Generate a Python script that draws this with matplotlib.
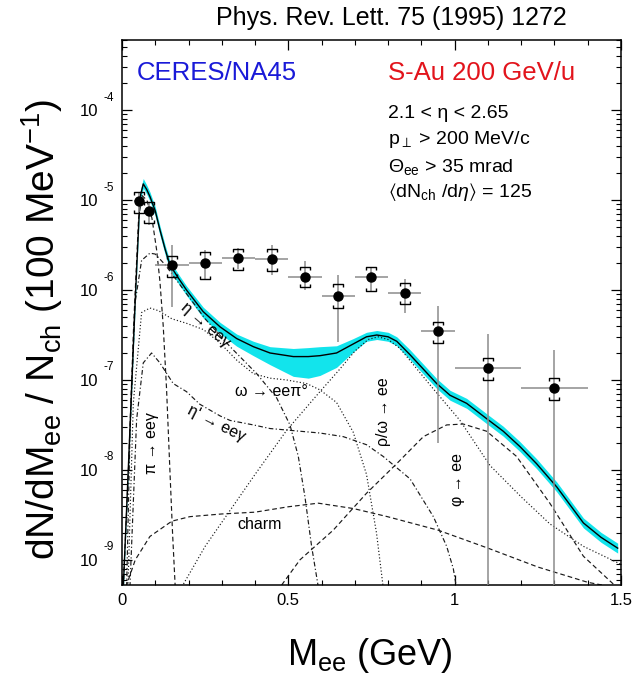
import numpy as np
import matplotlib
matplotlib.use('Agg')
import matplotlib.pyplot as plt
from matplotlib.path import Path
from matplotlib.ticker import LogLocator, MultipleLocator, NullFormatter

plt.rcParams['font.family'] = ['Liberation Sans', 'DejaVu Sans']
plt.rcParams['mathtext.fontset'] = 'custom'
plt.rcParams['mathtext.rm'] = 'Liberation Sans'
plt.rcParams['mathtext.it'] = 'Liberation Sans:italic'
plt.rcParams['mathtext.bf'] = 'Liberation Sans:bold'
plt.rcParams['mathtext.fallback'] = 'stixsans'

# CERES/NA45 S-Au data points
mass = [0.05, 0.08, 0.15, 0.25, 0.35, 0.45, 0.55, 0.65, 0.75, 0.85, 0.95, 1.10, 1.30]
dndm = [9.8e-6, 7.5e-6, 1.9e-6, 2.0e-6, 2.25e-6, 2.2e-6, 1.4e-6, 8.6e-7, 1.38e-6, 9.3e-7, 3.5e-7, 1.35e-7, 8.1e-8]
mass_err = [0.015, 0.015, 0.05, 0.05, 0.05, 0.05, 0.05, 0.05, 0.05, 0.05, 0.05, 0.1, 0.1]
stat_lo = [7.4e-6, 5.3e-6, 6.5e-7, 1.3e-6, 1.7e-6, 1.47e-6, 1.0e-6, 2.67e-7, 9.6e-7, 5.5e-7, 1.98e-8, 1e-10, 1e-10]
stat_hi = [1.2e-5, 9.6e-6, 3.16e-6, 2.8e-6, 2.9e-6, 3.16e-6, 2.12e-6, 1.47e-6, 1.81e-6, 1.33e-6, 6.7e-7, 3.24e-7, 2.15e-7]
sys_lo = [7.1e-6, 5.5e-6, 1.41e-6, 1.33e-6, 1.67e-6, 1.64e-6, 1.09e-6, 6.3e-7, 9.8e-7, 7.0e-7, 2.56e-7, 1.0e-7, 6.0e-8]
sys_hi = [1.24e-5, 9.6e-6, 2.39e-6, 2.67e-6, 2.86e-6, 2.86e-6, 1.82e-6, 1.17e-6, 1.79e-6, 1.2e-6, 4.45e-7, 1.74e-7, 1.06e-7]

# hadronic cocktail, log10(dN/dMee/Nch)
total_m = [0.004, 0.02, 0.04, 0.054, 0.064, 0.074, 0.084, 0.1, 0.114, 0.13, 0.144, 0.17, 0.194,
           0.244, 0.295, 0.345, 0.395, 0.445, 0.515, 0.56, 0.595, 0.645, 0.695, 0.735, 0.766,
           0.8, 0.826, 0.866, 0.906, 0.946, 0.986, 1.036, 1.096, 1.146, 1.196, 1.246, 1.307,
           1.387, 1.44, 1.49]
total_log = [-9.3, -7.9, -6.1, -4.97, -4.82, -4.88, -4.96, -5.12, -5.33, -5.55, -5.72, -5.87, -6.0,
             -6.24, -6.41, -6.54, -6.63, -6.70, -6.74, -6.74, -6.73, -6.70, -6.6, -6.52, -6.5,
             -6.52, -6.57, -6.72, -6.88, -7.04, -7.17, -7.26, -7.43, -7.57, -7.74, -7.93, -8.19,
             -8.59, -8.75, -8.87]
band_up = [0.05, 0.05, 0.05, 0.06, 0.06, 0.05, 0.05, 0.045, 0.045, 0.045, 0.045, 0.045, 0.045,
           0.05, 0.05, 0.05, 0.06, 0.07, 0.09, 0.1, 0.1, 0.08, 0.06, 0.05, 0.05,
           0.05, 0.05, 0.055, 0.055, 0.055, 0.055, 0.055, 0.055, 0.055, 0.055, 0.055, 0.055,
           0.055, 0.055, 0.055]
band_lo = [0.05, 0.05, 0.05, 0.05, 0.05, 0.05, 0.05, 0.06, 0.06, 0.06, 0.06, 0.06, 0.06,
           0.07, 0.075, 0.085, 0.1, 0.13, 0.22, 0.24, 0.22, 0.16, 0.09, 0.05, 0.05,
           0.05, 0.05, 0.055, 0.055, 0.055, 0.055, 0.055, 0.055, 0.055, 0.055, 0.055, 0.055,
           0.055, 0.055, 0.055]

pi_m = [0.004, 0.02, 0.035, 0.05, 0.06, 0.075, 0.09, 0.104, 0.114, 0.124, 0.134, 0.144, 0.152, 0.16]
pi_log = [-9.3, -7.95, -6.4, -5.2, -4.95, -5.0, -5.2, -5.55, -5.9, -6.4, -7.1, -8.0, -8.7, -9.3]

eta_m = [0.014, 0.024, 0.039, 0.059, 0.084, 0.1, 0.13, 0.164, 0.2, 0.25, 0.325, 0.405, 0.465,
         0.505, 0.53, 0.55, 0.57, 0.59]
eta_log = [-9.3, -7.63, -6.15, -5.67, -5.59, -5.6, -5.72, -5.89, -6.07, -6.32, -6.63, -6.93, -7.2,
           -7.5, -7.85, -8.3, -8.85, -9.3]

omega_m = [0.018, 0.034, 0.059, 0.084, 0.11, 0.15, 0.194, 0.245, 0.295, 0.345, 0.395, 0.445,
           0.495, 0.555, 0.595, 0.645, 0.695, 0.735, 0.765, 0.785]
omega_log = [-9.3, -7.26, -6.25, -6.2, -6.23, -6.32, -6.37, -6.44, -6.59, -6.78, -6.93, -6.98,
             -7.0, -7.04, -7.11, -7.25, -7.58, -8.05, -8.7, -9.3]

etap_m = [0.024, 0.044, 0.064, 0.089, 0.114, 0.154, 0.194, 0.234, 0.295, 0.325, 0.395, 0.445,
          0.505, 0.595, 0.665, 0.735, 0.785, 0.866, 0.936, 0.976, 0.996, 1.005]
etap_log = [-9.3, -7.44, -6.81, -6.7, -6.81, -7.04, -7.13, -7.27, -7.4, -7.45, -7.5, -7.54,
            -7.56, -7.59, -7.63, -7.72, -7.85, -8.1, -8.52, -8.85, -9.1, -9.3]

rho_m = [0.18, 0.25, 0.325, 0.4, 0.495, 0.595, 0.65, 0.7, 0.74, 0.77, 0.8, 0.836, 0.936, 1.016,
         1.106, 1.2, 1.286, 1.387, 1.5]
rho_log = [-9.3, -8.85, -8.45, -8.05, -7.56, -7.13, -6.9, -6.68, -6.55, -6.52, -6.55, -6.65, -7.1,
           -7.45, -7.95, -8.3, -8.6, -8.85, -9.05]

phi_m = [0.48, 0.535, 0.635, 0.735, 0.826, 0.906, 0.976, 1.026, 1.096, 1.186, 1.286, 1.387, 1.48]
phi_log = [-9.28, -9.0, -8.67, -8.26, -7.93, -7.63, -7.5, -7.49, -7.57, -7.85, -8.37, -8.96, -9.28]

charm_m = [0.012, 0.04, 0.084, 0.15, 0.204, 0.3, 0.4, 0.5, 0.59, 0.696, 0.798, 0.95, 1.1, 1.25,
           1.4, 1.5]
charm_log = [-9.3, -9.0, -8.74, -8.57, -8.52, -8.49, -8.47, -8.41, -8.37, -8.43, -8.52, -8.67,
             -8.87, -9.08, -9.25, -9.32]

dashed = (0, (4, 2.5))
dotted = (0, (1, 1.8))
dashdot = (0, (4, 2, 1, 2))

fig = plt.figure(figsize=(6.32, 6.76), dpi=100)
ax = fig.add_axes([0.193, 0.1346, 0.7896, 0.8062])
ax.set_yscale('log')
ax.set_xlim(0, 1.5)
ax.set_ylim(10 ** -9.28, 10 ** -3.22)

# cocktail sum with its uncertainty band
tl = np.array(total_log)
ax.fill_between(total_m, 10 ** (tl - np.array(band_lo)), 10 ** (tl + np.array(band_up)),
                color='#12e4ec', lw=0, zorder=1)
ax.plot(total_m, 10 ** tl, color='black', lw=1.0, zorder=3)

curves = [(pi_m, pi_log, dashed), (eta_m, eta_log, dashdot), (omega_m, omega_log, dotted),
          (etap_m, etap_log, dashdot), (rho_m, rho_log, dotted), (phi_m, phi_log, dashed),
          (charm_m, charm_log, dashed)]
for cm, cl, ls in curves:
    ax.plot(cm, 10 ** np.array(cl), color='#1a1a1a', lw=0.85, ls=ls, zorder=2)

# data with statistical errors
d = np.array(dndm)
ax.errorbar(mass, dndm, xerr=mass_err,
            yerr=[d - np.array(stat_lo), np.array(stat_hi) - d],
            fmt='o', color='black', ms=6.5, ecolor='#8c8c8c', elinewidth=1.1,
            capsize=0, zorder=5)

# systematic brackets
top_br = Path([(-1, -0.7), (-1, 0), (1, 0), (1, -0.7)],
              [Path.MOVETO, Path.LINETO, Path.LINETO, Path.LINETO])
bot_br = Path([(-1, 0.7), (-1, 0), (1, 0), (1, 0.7)],
              [Path.MOVETO, Path.LINETO, Path.LINETO, Path.LINETO])
ax.plot(mass, sys_hi, ls='none', marker=top_br, ms=6.5, mew=1.0, mec='black', mfc='none', zorder=6)
ax.plot(mass, sys_lo, ls='none', marker=bot_br, ms=6.5, mew=1.0, mec='black', mfc='none', zorder=6)

# axes style
ax.xaxis.set_minor_locator(MultipleLocator(0.1))
ax.set_xticks([0, 0.5, 1, 1.5])
ax.set_xticklabels(['0', '0.5', '1', '1.5'])
ax.yaxis.set_minor_locator(LogLocator(base=10, subs=np.arange(2, 10)))
ax.yaxis.set_minor_formatter(NullFormatter())
exps = [-9, -8, -7, -6, -5, -4]
ax.set_yticks([10.0 ** k for k in exps])
ax.set_yticklabels(['10'] * len(exps))
ax.tick_params(which='both', direction='in', top=True, right=True, labelsize=12)
ax.tick_params(which='major', length=7, width=0.9)
ax.tick_params(which='minor', length=3.5, width=0.8)
ax.tick_params(axis='y', which='major', pad=17)
ax.tick_params(axis='x', which='major', pad=6)
for s in ax.spines.values():
    s.set_linewidth(1.1)
for k in exps:
    ax.annotate(str(k), xy=(0, 10.0 ** k), xycoords=('axes fraction', 'data'),
                xytext=(-13.5, 9), textcoords='offset points', ha='left', va='center',
                fontsize=8.5)

# labels
fig.text(0.619, 0.973, 'Phys. Rev. Lett. 75 (1995) 1272', ha='center', va='center', fontsize=18)
fig.text(0.066, 0.512, r'dN/dM$_{\rm ee}$ / N$_{\rm ch}$ (100 MeV$^{-1}$)', rotation=90,
         ha='center', va='center', fontsize=28)
fig.text(0.585, 0.031, r'M$_{\rm ee}$ (GeV)', ha='center', va='center', fontsize=26)

ax.text(0.030, 0.939, 'CERES/NA45', transform=ax.transAxes, color='#1a1ad8', fontsize=18.5,
        ha='left', va='center')
ax.text(0.533, 0.939, 'S-Au 200 GeV/u', transform=ax.transAxes, color='#e2141c', fontsize=18.5,
        ha='left', va='center')
ax.text(0.533, 0.866, '2.1 < η < 2.65', transform=ax.transAxes, fontsize=14, va='center')
ax.text(0.533, 0.817, r'p$_{\perp}$ > 200 MeV/c', transform=ax.transAxes, fontsize=14, va='center')
ax.text(0.533, 0.767, r'$\Theta_{\rm ee}$ > 35 mrad', transform=ax.transAxes, fontsize=14, va='center')
ax.text(0.533, 0.721, r'$\langle$dN$_{\rm ch}$ /d$\eta\rangle$ = 125', transform=ax.transAxes,
        fontsize=14, va='center')

lab = dict(fontsize=11.5, ha='center', va='center', zorder=4)
ax.text(0.25, 4.1e-7, 'η → eeγ', rotation=-41, **lab)
ax.text(0.45, 7.4e-8, 'ω → eeπ°', **lab)
ax.text(0.285, 3.3e-8, "η' → eeγ", rotation=-27, **lab)
ax.text(0.089, 2.0e-8, 'π → eeγ', rotation=90, **lab)
ax.text(0.415, 2.45e-9, 'charm', **lab)
ax.text(0.786, 4.4e-8, 'ρ/ω → ee', rotation=90, **lab)
ax.text(1.008, 7.8e-9, 'φ → ee', rotation=90, **lab)

fig.savefig('out.png', dpi=100)
